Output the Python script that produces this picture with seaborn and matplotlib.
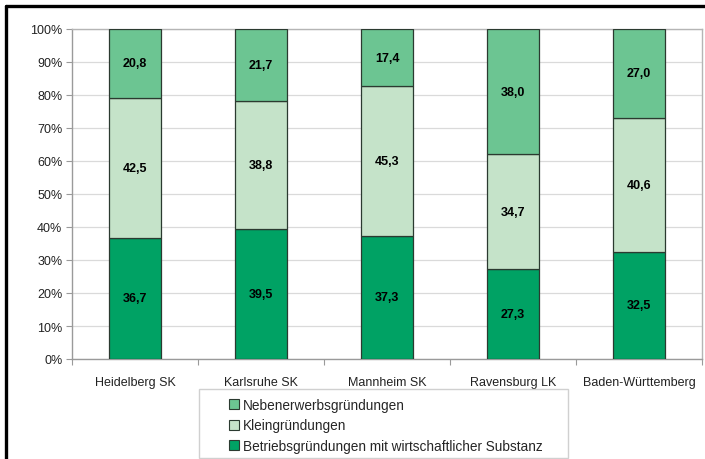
import matplotlib
matplotlib.use("Agg")
import matplotlib.pyplot as plt
import seaborn as sns
import numpy as np
import pandas as pd
from matplotlib.patches import Rectangle, Patch
from matplotlib.lines import Line2D
from matplotlib.ticker import MultipleLocator, FixedLocator

regions = ["Heidelberg SK", "Karlsruhe SK", "Mannheim SK", "Ravensburg LK", "Baden-Württemberg"]
betrieb = [36.7, 39.5, 37.3, 27.3, 32.5]
klein = [42.5, 38.8, 45.3, 34.7, 40.6]
neben = [20.8, 21.7, 17.4, 38.0, 27.0]

series_names = ["Betriebsgründungen mit wirtschaftlicher Substanz",
                "Kleingründungen",
                "Nebenerwerbsgründungen"]
series_colors = ["#00A264", "#C5E3C9", "#6CC592"]
edge = "#2B3A30"

sns.set_theme(style="white")
plt.rcParams["font.family"] = ["Liberation Sans", "DejaVu Sans"]

fig = plt.figure(figsize=(7.05, 4.60), dpi=100)
ax = fig.add_axes([72 / 705, 1 - 360 / 460, (702 - 72) / 705, (360 - 30) / 460])

df = pd.DataFrame({"region": regions, "b": betrieb, "k": klein, "n": neben})
bottom = np.zeros(len(regions))
for col, name, color in zip(["b", "k", "n"], series_names, series_colors):
    sns.barplot(data=df, x="region", y=col, color=color, bottom=bottom,
                width=0.405, edgecolor=edge, linewidth=0.9, ax=ax,
                saturation=1, zorder=3)
    vals = df[col].to_numpy()
    for i, v in enumerate(vals):
        ax.text(i, bottom[i] + v / 2, f"{v:.1f}".replace(".", ","),
                ha="center", va="center", fontsize=9, fontweight="bold",
                color="black", zorder=4)
    bottom = bottom + vals

ax.set_xlim(-0.5, len(regions) - 0.5)
ax.set_ylim(0, 100)
ax.yaxis.set_major_locator(MultipleLocator(10))
ax.set_yticklabels([f"{int(t)}%" for t in ax.get_yticks()])
ax.set_xlabel("")
ax.set_ylabel("")
ax.grid(axis="y", color="#DADADA", linewidth=0.9, zorder=0)
ax.set_axisbelow(True)
for side in ["left", "bottom"]:
    ax.spines[side].set_color("#9A9A9A")
    ax.spines[side].set_linewidth(1.0)
for side in ["top", "right"]:
    ax.spines[side].set_color("#B5B5B5")
    ax.spines[side].set_linewidth(1.0)
ax.tick_params(axis="y", left=True, length=4, width=0.8, color="#9A9A9A",
               labelsize=9, pad=3, labelcolor="#222222")
ax.tick_params(axis="x", bottom=False, labelsize=9, pad=6, labelcolor="#222222")
ax.xaxis.set_minor_locator(FixedLocator(np.arange(-0.5, len(regions), 1.0)))
ax.tick_params(axis="x", which="minor", bottom=True, length=4, width=0.8, color="#9A9A9A")

# legend box
fig.add_artist(Rectangle((199 / 705, 1 - 459 / 460), (568 - 199) / 705, (459 - 390) / 460,
                         transform=fig.transFigure, facecolor="white",
                         edgecolor="#D0D0D0", linewidth=1.0))
handles = [Patch(facecolor=c, edgecolor=edge, linewidth=0.8)
           for c in series_colors[::-1]]
fig.legend(handles, series_names[::-1], loc="upper left",
           bbox_to_anchor=(219 / 705, 1 - 389 / 460), frameon=False,
           fontsize=9.8, handlelength=0.75, handleheight=0.75,
           handletextpad=0.3, labelspacing=0.5, borderpad=0.2)

# outer frame
fig.add_artist(Line2D([6 / 705, 1], [1 - 7 / 460, 1 - 7 / 460], transform=fig.transFigure,
                      color="black", linewidth=2.4))
fig.add_artist(Line2D([6 / 705, 6 / 705], [0, 1 - 7 / 460], transform=fig.transFigure,
                      color="black", linewidth=2.4))

fig.savefig("out.png", dpi=100, facecolor="white")
